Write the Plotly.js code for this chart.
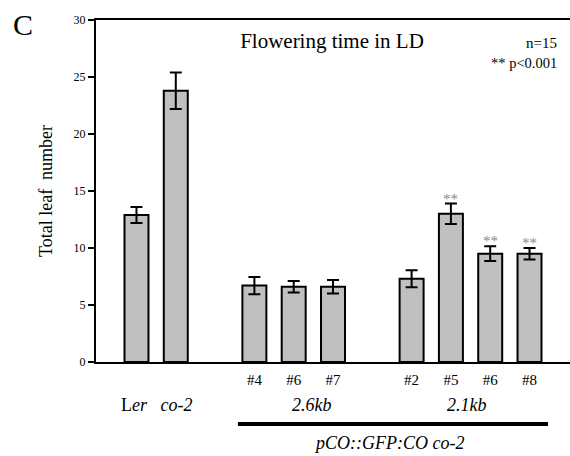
<!DOCTYPE html>
<html>
<head>
<meta charset="utf-8">
<script src="https://cdn.plot.ly/plotly-3.0.1.min.js"></script>
<style>html,body{margin:0;padding:0;background:#fff;}#chart{width:570px;height:456px;}</style>
</head>
<body>
<div id="chart"></div>
<script>
// Data
var lineLabels = ["", "", "#4", "#6", "#7", "#2", "#5", "#6", "#8"];
var groupOf = ["ctrl", "ctrl", "2.6kb", "2.6kb", "2.6kb", "2.1kb", "2.1kb", "2.1kb", "2.1kb"];
var leafNumber = [12.9, 23.8, 6.7, 6.6, 6.6, 7.3, 13.0, 9.5, 9.5];
var leafError = [0.7, 1.6, 0.75, 0.5, 0.6, 0.75, 0.9, 0.65, 0.5];
var significant = [false, false, false, false, false, false, true, true, true];
var groupNames = ["L<i>er</i>&nbsp;&nbsp; <i>co-2</i>", "<i>2.6kb</i>", "<i>2.1kb</i>"];
var yTicks = [0, 5, 10, 15, 20, 25, 30];

// positions: one slot per bar, one empty slot between groups
var xPos = [];
var slot = 0;
for (var i = 0; i < groupOf.length; i++) {
  if (i > 0 && groupOf[i] !== groupOf[i - 1]) slot += 1;
  xPos.push(slot);
  slot += 1;
}

var serif = "Liberation Serif";

var trace = {
  type: "bar",
  x: xPos,
  y: leafNumber,
  width: 0.61,
  marker: {color: "#c0c0c0", line: {color: "#000", width: 2}},
  error_y: {type: "data", array: leafError, visible: true, color: "#000", thickness: 2, width: 6},
  hoverinfo: "skip"
};

var tickvals = [], ticktext = [];
for (var i = 0; i < xPos.length; i++) {
  if (lineLabels[i]) { tickvals.push(xPos[i]); ticktext.push(lineLabels[i]); }
}

var annotations = [];
// significance stars
for (var i = 0; i < xPos.length; i++) {
  if (significant[i]) {
    annotations.push({x: xPos[i], y: leafNumber[i] + leafError[i], xref: "x", yref: "y",
      text: "**", showarrow: false, yanchor: "bottom", yshift: -5,
      font: {family: serif, size: 15, color: "#888"}});
  }
}
// group labels
var groups = ["ctrl", "2.6kb", "2.1kb"];
var groupShift = [0, 18, -4];
for (var g = 0; g < groups.length; g++) {
  var xs = xPos.filter(function (v, k) { return groupOf[k] === groups[g]; });
  var mid = (xs[0] + xs[xs.length - 1]) / 2;
  annotations.push({x: mid, y: -0.126, xref: "x", yref: "paper", text: groupNames[g],
    showarrow: false, xanchor: "center", yanchor: "middle", xshift: groupShift[g],
    font: {family: serif, size: 18, color: "#000"}});
}
annotations.push({x: (389 - 96) / 474, y: -0.237, xref: "paper", yref: "paper", xanchor: "center", yanchor: "middle",
  text: "<i>pCO::GFP:CO co-2</i>", showarrow: false, font: {family: serif, size: 18, color: "#000"}});
annotations.push({x: (23 - 96) / 474, y: (362 - 25) / 342, xref: "paper", yref: "paper", xanchor: "center", yanchor: "middle",
  text: "C", showarrow: false, font: {family: serif, size: 30, color: "#000"}});
annotations.push({x: 1, y: (362 - 43) / 342, xref: "paper", yref: "paper", xanchor: "right", yanchor: "middle",
  xshift: -11, text: "n=15", showarrow: false, font: {family: serif, size: 15, color: "#000"}});
annotations.push({x: 1, y: (362 - 63) / 342, xref: "paper", yref: "paper", xanchor: "right", yanchor: "middle",
  xshift: -11, text: "** p<0.001", showarrow: false, font: {family: serif, size: 14.5, color: "#000"}});

var firstT = xPos[2], lastT = xPos[xPos.length - 1];
var layout = {
  width: 570, height: 456,
  margin: {l: 96, r: 0, t: 20, b: 94},
  paper_bgcolor: "#fff", plot_bgcolor: "#fff",
  showlegend: false,
  font: {family: serif, color: "#000"},
  title: {text: "Flowering time in LD", x: 332 / 570, xanchor: "center", y: 1 - 41 / 456, yanchor: "middle",
    font: {family: serif, size: 21, color: "#000"}},
  xaxis: {range: [-1.03, 11.03], showgrid: false, zeroline: false, showline: true, linecolor: "#000", linewidth: 2,
    mirror: true, tickvals: tickvals, ticktext: ticktext, ticks: "", ticklabelstandoff: 3,
    tickfont: {family: serif, size: 15, color: "#000"}, fixedrange: true},
  yaxis: {range: [0, 30], tickvals: yTicks, showgrid: false, zeroline: false, showline: true, linecolor: "#000",
    linewidth: 2, ticks: "outside", ticklen: 6, tickwidth: 2, tickcolor: "#000",
    tickfont: {family: serif, size: 12, color: "#000"},
    title: {text: "Total leaf&nbsp; number", font: {family: serif, size: 18, color: "#000"}, standoff: 16},
    fixedrange: true},
  shapes: [{type: "line", xref: "x", yref: "paper", x0: firstT - 0.42, x1: lastT + 0.47,
    y0: -0.181, y1: -0.181, line: {color: "#000", width: 4}}],
  annotations: annotations
};

Plotly.newPlot("chart", [trace], layout, {displayModeBar: false, staticPlot: true});
</script>
</body>
</html>
